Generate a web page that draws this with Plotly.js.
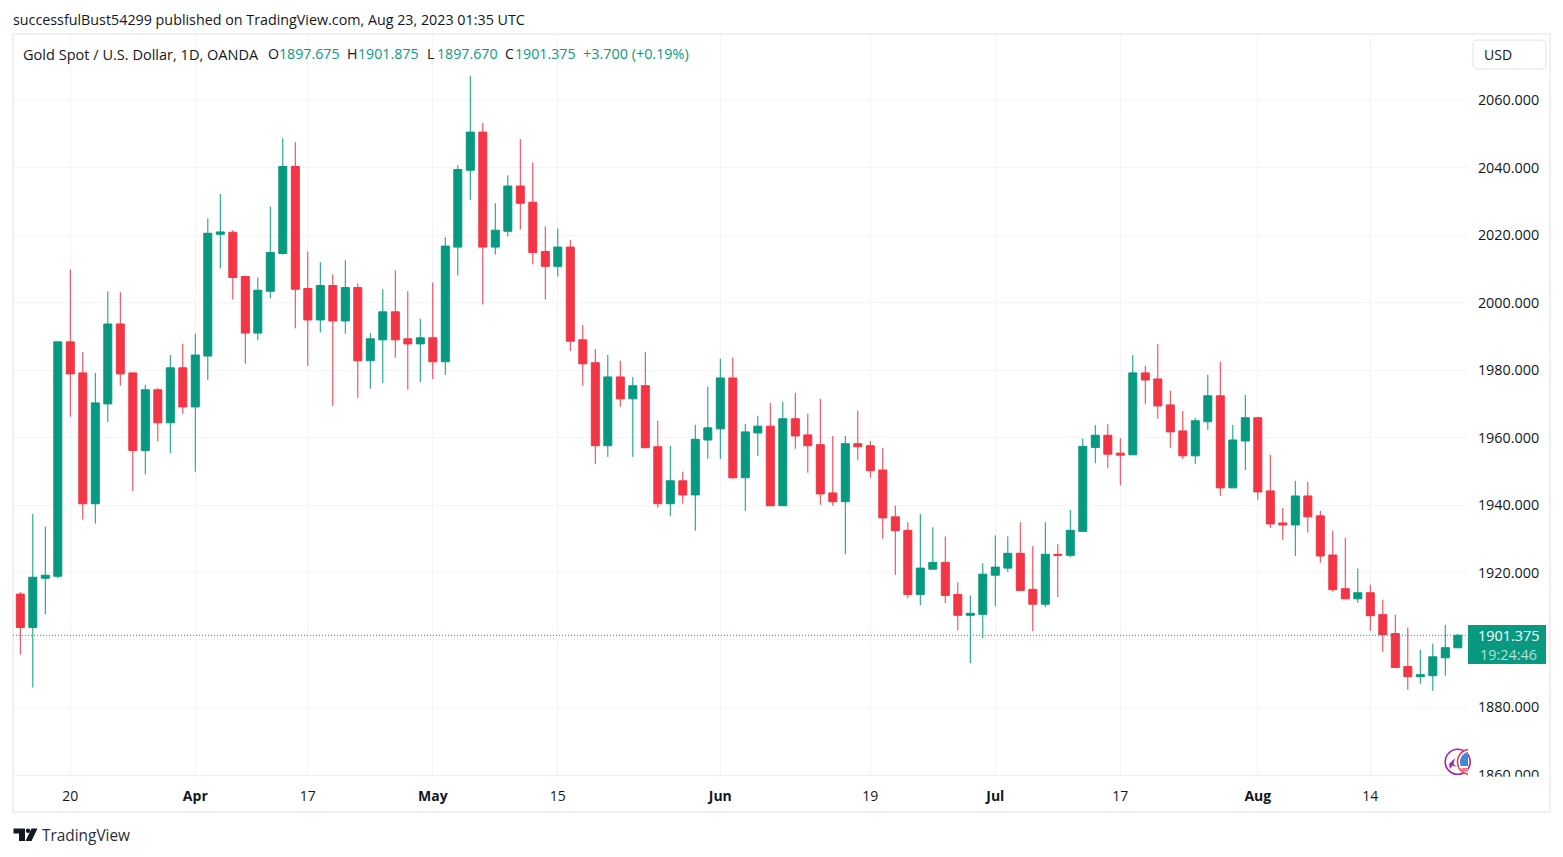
<!DOCTYPE html>
<html><head><meta charset="utf-8">
<script src="https://cdn.plot.ly/plotly-3.0.1.min.js"></script>
<style>html,body{margin:0;padding:0;background:#fff}#c{width:1563px;height:857px}</style></head>
<body><div id="c"></div>
<script>
const dates=["2023-03-14","2023-03-15","2023-03-16","2023-03-17","2023-03-20","2023-03-21","2023-03-22","2023-03-23","2023-03-24","2023-03-27","2023-03-28","2023-03-29","2023-03-30","2023-03-31","2023-04-03","2023-04-04","2023-04-05","2023-04-06","2023-04-10","2023-04-11","2023-04-12","2023-04-13","2023-04-14","2023-04-17","2023-04-18","2023-04-19","2023-04-20","2023-04-21","2023-04-24","2023-04-25","2023-04-26","2023-04-27","2023-04-28","2023-05-01","2023-05-02","2023-05-03","2023-05-04","2023-05-05","2023-05-08","2023-05-09","2023-05-10","2023-05-11","2023-05-12","2023-05-15","2023-05-16","2023-05-17","2023-05-18","2023-05-19","2023-05-22","2023-05-23","2023-05-24","2023-05-25","2023-05-26","2023-05-29","2023-05-30","2023-05-31","2023-06-01","2023-06-02","2023-06-05","2023-06-06","2023-06-07","2023-06-08","2023-06-09","2023-06-12","2023-06-13","2023-06-14","2023-06-15","2023-06-16","2023-06-19","2023-06-20","2023-06-21","2023-06-22","2023-06-23","2023-06-26","2023-06-27","2023-06-28","2023-06-29","2023-06-30","2023-07-03","2023-07-04","2023-07-05","2023-07-06","2023-07-07","2023-07-10","2023-07-11","2023-07-12","2023-07-13","2023-07-14","2023-07-17","2023-07-18","2023-07-19","2023-07-20","2023-07-21","2023-07-24","2023-07-25","2023-07-26","2023-07-27","2023-07-28","2023-07-31","2023-08-01","2023-08-02","2023-08-03","2023-08-04","2023-08-07","2023-08-08","2023-08-09","2023-08-10","2023-08-11","2023-08-14","2023-08-15","2023-08-16","2023-08-17","2023-08-18","2023-08-21","2023-08-22","2023-08-23"];
const opens=[1913.6,1903.7,1918.3,1918.9,1988.4,1979.2,1940.4,1970.0,1993.7,1979.2,
1956.2,1974.2,1964.4,1980.7,1969.1,1984.2,2020.3,2020.9,2007.8,1991,
2003.4,2014.6,2040.4,2004.2,1994.9,2005.1,1994.6,2004.5,1982.8,1989,
1997.3,1989.3,1987.8,1989.6,1982.5,2016.5,2039.3,2050.6,2016.5,2021.2,
2034.6,2029.8,2015.2,2010.8,2016.5,1989,1982.2,1957.6,1978,1971.5,
1975.4,1957.3,1940.4,1947.2,1943,1959.3,1962.6,1977.7,1948.1,1961.4,
1963.4,1939.8,1965.6,1960.8,1957.9,1943.6,1941,1958.2,1957.6,1950.4,
1936.5,1932.5,1913.5,1921,1923,1913.5,1907.3,1907.6,1919.2,1921.3,
1925.7,1915,1910.6,1925.4,1925.1,1932.2,1957.1,1960.7,1955.4,1954.9,
1979.2,1977.4,1969.7,1962,1954.6,1964.7,1972.4,1945.1,1959,1965.9,
1944.2,1934.7,1934.1,1942.7,1936.8,1925.2,1915.2,1912.2,1914,1907.5,
1901.9,1892.1,1889.1,1889.4,1894.7,1897.675];
const highs=[1914.2,1937.4,1933.6,1988.4,2009.9,1985.4,1979.2,2003.4,2003.1,1979.2,
1975.7,1974.8,1984.5,1987.8,1990.8,2025,2032.2,2021.5,2007.8,2007.5,
2028.5,2048.8,2047.6,2015.2,2012,2008.4,2012.6,2005.7,1991,2004,
2009.6,2003.4,1995.2,2006,2019.5,2040.8,2067.2,2053.3,2029.5,2037.8,
2048.5,2041.6,2022.6,2022,2018.6,1993.4,1986.3,1984.5,1982.8,1978,
1985.4,1965,1957.6,1949.9,1963.8,1975.1,1983.4,1983.7,1964.1,1966.5,
1970.3,1970.6,1973.3,1967.1,1971.5,1960.5,1960.5,1968,1959,1957,
1939.8,1934.9,1937.3,1933.4,1930.7,1917.1,1913.2,1922.7,1931,1930.7,
1934.9,1927.8,1934.9,1928.4,1938.5,1959.8,1963.7,1964,1959.8,1984.5,
1981.3,1987.8,1973.9,1967.9,1965.9,1978.6,1982.5,1963.8,1972.7,1966.2,
1954.9,1939.2,1947.2,1946.9,1938.3,1932.4,1930.3,1921.2,1916.4,1911.9,
1907.5,1903.7,1897.1,1898.9,1904.5,1901.875];
const lows=[1895.7,1885.9,1907.6,1918.3,1966.2,1935.7,1934.5,1964.7,1975.4,1944.2,
1949.1,1958.9,1955.4,1967.1,1949.9,1977.1,2010.2,2001,1981.9,1988.9,
2001.3,2014.3,1992.4,1981.3,1991.2,1969.4,1990.8,1971.8,1974.5,1976.2,
1983.7,1974.2,1976.5,1977.4,1978.6,2008.1,2030.5,1999.5,2014.3,2019.7,
2021.8,2011.4,2001,2007.8,1985.7,1975.4,1952.2,1954.3,1969.1,1954.3,
1957,1939.2,1936.8,1940.4,1932.4,1953.7,1953.7,1947.8,1938.3,1954.6,
1939.8,1939.8,1956.7,1949.6,1940.1,1939.8,1925.4,1953.4,1948.1,1930,
1919.3,1912.4,1910.3,1921,1910.9,1902.9,1893.1,1900.5,1910,1920.1,
1914.7,1902.6,1909.7,1912.7,1924.5,1932.2,1952.4,1950.9,1945.9,1954.9,
1970,1965.6,1957,1953.7,1952.2,1962.3,1942.7,1945.1,1950.4,1941.6,
1933.2,1929.7,1924.9,1931.8,1922.9,1914.3,1912.2,1911,1902.7,1896.5,
1891.8,1885.2,1887,1884.9,1889.4,1897.67];
const closes=[1903.7,1918.6,1919.2,1988.4,1978.9,1940.4,1970.3,1993.7,1978.9,1956.2,
1974.2,1964.4,1980.7,1969.1,1984.5,2020.6,2021,2007.5,1991,2003.7,
2014.9,2040.4,2004,1994.9,2005.1,1994.6,2004.5,1982.8,1989.3,1997.3,
1989,1987.8,1989.6,1982.5,2016.8,2039.5,2050.6,2016.5,2021.5,2034.6,
2029.5,2014.9,2010.8,2016.5,1988.6,1981.9,1957.6,1978,1971.5,1975.4,
1957,1940.4,1947.2,1943,1959.5,1962.9,1977.7,1948.1,1961.7,1963.4,
1939.8,1965.6,1960.5,1957.6,1943.3,1941,1958.2,1957.3,1950.2,1936.2,
1932.4,1913.5,1921.3,1923,1913.2,1907.3,1907.9,1919.5,1921.6,1925.7,
1914.7,1910.6,1925.4,1925.1,1932.5,1957.4,1960.7,1955.1,1954.8,1979.2,
1977.1,1969.4,1961.7,1954.6,1965,1972.4,1945.1,1959.3,1965.9,1943.9,
1934.4,1934.1,1942.7,1936.5,1924.9,1914.9,1912.2,1914,1907.2,1901.6,
1891.8,1889.1,1889.7,1895,1897.7,1901.375];
const xTickDates=["2023-03-20","2023-04-03","2023-04-17","2023-05-01","2023-05-15","2023-06-01","2023-06-19","2023-07-03","2023-07-17","2023-08-01","2023-08-14"];
const xTickText=["20","<b>Apr</b>","17","<b>May</b>","15","<b>Jun</b>","19","<b>Jul</b>","17","<b>Aug</b>","14"];
const yTicks=[1860,1880,1900,1920,1940,1960,1980,2000,2020,2040,2060];
const yTickText=["1860.000","1880.000","","1920.000","1940.000","1960.000","1980.000","2000.000","2020.000","2040.000","2060.000"];
const lastClose=1901.375;
const publishLine="successfulBust54299 published on TradingView.com, Aug 23, 2023 01:35 UTC";
const symbolLine="Gold Spot / U.S. Dollar, 1D, OANDA";
const ohlcParts=[["O","1897.675",268,278.5],["H","1901.875",347,358],["L","1897.670",427,437],["C","1901.375",505,515]];
const changeText="+3.700 (+0.19%)";

const UP="#089981",DOWN="#F23645",W=1563,H=857,L=13,R=1468,T=35,B=775;
const FONT='"Open Sans","Noto Sans",sans-serif';
const px=x=>(x-L)/(R-L), py=y=>(B-y)/(B-T);
const rectP=(x0,y0,x1,y1,o)=>Object.assign({type:"rect",xref:"paper",yref:"paper",x0:px(x0),x1:px(x1),y0:py(y0),y1:py(y1),line:{width:0}},o);
const circP=(cx,cy,r,o)=>Object.assign({type:"circle",xref:"paper",yref:"paper",x0:px(cx-r),x1:px(cx+r),y0:py(cy-r),y1:py(cy+r)},o);
const pathP=(pts,o,open)=>Object.assign({type:"path",xref:"paper",yref:"paper",path:"M"+pts.map(p=>px(p[0])+","+py(p[1])).join("L")+(open?"":"Z"),line:{width:0}},o);
const txt=(x,y,text,size,color,anchor)=>({xref:"paper",yref:"paper",x:px(x),y:py(y),text,showarrow:false,xanchor:anchor||"left",yanchor:"middle",font:{family:FONT,size,color},borderpad:0,borderwidth:0});
// left part of a badge circle, cut off where the price scale begins
const arcPts=(cx,cy,r)=>{const a=Math.acos((R-cx)/r),out=[];for(let k=0;k<=24;k++){const t=a+(2*Math.PI-2*a)*k/24;out.push([cx+r*Math.cos(t),cy+r*Math.sin(t)]);}return out;};

const shapes=[
 rectP(13,34,1550,812,{line:{color:"#eff0f5",width:2},layer:"below"}),
 {type:"line",xref:"paper",yref:"y",x0:0,x1:1,y0:lastClose,y1:lastClose,line:{color:UP,width:1,dash:"1px,2px"},layer:"above"},
 // event badges
 circP(1457.7,761.8,12.5,{line:{color:"#9C27B0",width:1.6},fillcolor:"#fff",layer:"above"}),
 pathP([[1449,764],[1455,758],[1453.5,764],[1457,767],[1452.5,765.5],[1450,769]],{fillcolor:"#9C27B0",layer:"above"}),
 pathP(arcPts(1470,761.8,12.5),{fillcolor:"#fff",layer:"above"}),
 pathP(arcPts(1470,761.8,12.5),{line:{color:"#F23645",width:1.6},fillcolor:"rgba(0,0,0,0)",layer:"above"},true),
 pathP(arcPts(1470,761.8,10),{fillcolor:"#3d8bd9",layer:"above"}),
 rectP(1459,766,1468,768,{fillcolor:"#ffffff",layer:"above"}),
 rectP(1461.5,768,1468,771.5,{fillcolor:"#F8747F",layer:"above"}),
 // clip of right axis
 rectP(1468,776.7,1549,790,{fillcolor:"#fff",layer:"above"}),
 // price label
 rectP(1468,625,1546,664,{fillcolor:UP,layer:"above"}),
 // logo
 pathP([[13.5,828.5],[25,828.5],[25,841],[19,841],[19,833.5],[13.5,833.5]],{fillcolor:"#131722",layer:"above"}),
 circP(28,830.7,2.2,{fillcolor:"#131722",line:{width:0},layer:"above"}),
 pathP([[31.5,828.5],[37.5,828.5],[31.5,841],[25.5,841]],{fillcolor:"#131722",layer:"above"})
];
const ann=[
 txt(13,19.5,publishLine,14.3,"#131722"),
 txt(23,53.5,symbolLine,14.55,"#131722"),
 txt(583,54,changeText,14.4,UP),
 txt(1538.8,635.5,"1901.375",14.4,"#ffffff","right"),
 txt(1536.5,654,"19:24:46",14.4,"#b5e0d7","right"),
 txt(1484,54.5,"USD",14,"#131722"),
 txt(42,835,"TradingView",15.4,"#2a2e39")
];
ohlcParts.forEach(p=>{ann.push(txt(p[2],54,p[0],14.2,"#131722"));ann.push(txt(p[3],54,p[1],14.2,UP));});
shapes.push({type:"path",xref:"paper",yref:"paper",layer:"above",line:{color:"#e0e3eb",width:1},fillcolor:"#fff",
 path:(()=>{const x0=px(1473),x1=px(1546),y0=py(40),y1=py(69),rx=5/(R-L),ry=5/(B-T);
 return `M${x0+rx},${y0}L${x1-rx},${y0}Q${x1},${y0} ${x1},${y0-ry}L${x1},${y1+ry}Q${x1},${y1} ${x1-rx},${y1}L${x0+rx},${y1}Q${x0},${y1} ${x0},${y1+ry}L${x0},${y0-ry}Q${x0},${y0} ${x0+rx},${y0}Z`;})()});

Plotly.newPlot("c",[{type:"candlestick",x:dates,open:opens,high:highs,low:lows,close:closes,
 increasing:{line:{color:UP,width:1},fillcolor:UP},decreasing:{line:{color:DOWN,width:1},fillcolor:DOWN},
 whiskerwidth:0,hoverinfo:"skip",showlegend:false}],
 {width:W,height:H,margin:{l:L,r:W-R,t:T,b:H-B,pad:0},paper_bgcolor:"#fff",plot_bgcolor:"#fff",
  boxgap:0.36,boxgroupgap:0,showlegend:false,hovermode:false,dragmode:false,
  xaxis:{type:"category",categoryorder:"array",categoryarray:dates,range:[-0.584,115.816],rangeslider:{visible:false},
   tickmode:"array",tickvals:xTickDates,ticktext:xTickText,tickangle:0,
   showgrid:true,gridcolor:"#f3f4f7",gridwidth:1,zeroline:false,showline:true,linecolor:"#eff0f5",linewidth:1,
   ticks:"outside",ticklen:8,tickcolor:"rgba(0,0,0,0)",tickfont:{family:FONT,size:14,color:"#131722"}},
  yaxis:{side:"right",range:[1859.95,2079.4],tickmode:"array",tickvals:yTicks,ticktext:yTickText,
   showgrid:true,gridcolor:"#f3f4f7",gridwidth:1,zeroline:false,showline:false,
   ticks:"outside",ticklen:6,tickcolor:"rgba(0,0,0,0)",tickfont:{family:FONT,size:14.4,color:"#131722"}},
  shapes,annotations:ann},
 {displayModeBar:false,staticPlot:true});
</script></body></html>
